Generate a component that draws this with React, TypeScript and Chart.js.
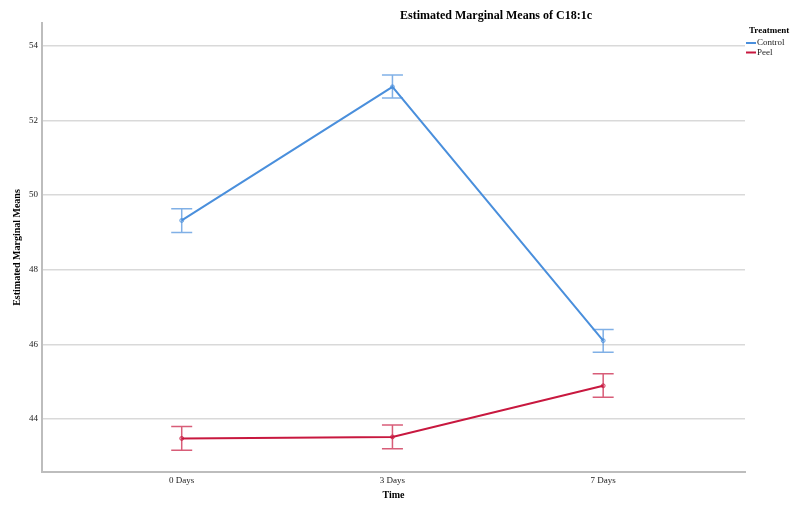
import React, { useEffect, useRef } from "react";
import { Chart, registerables } from "chart.js";

Chart.register(...registerables);

const timeLabels = ["0 Days", "3 Days", "7 Days"];
const controlMeans = [49.32, 52.9, 46.1];
const controlUpper = [49.63, 53.22, 46.4];
const controlLower = [49.0, 52.6, 45.79];
const peelMeans = [43.48, 43.52, 44.89];
const peelUpper = [43.8, 43.84, 45.21];
const peelLower = [43.16, 43.2, 44.58];
const yTickValues = [44, 46, 48, 50, 52, 54];
const seriesNames = ["Control", "Peel"];
const chartTitle = "Estimated Marginal Means of C18:1c";
const legendTitle = "Treatment";
const xAxisTitle = "Time";
const yAxisTitle = "Estimated Marginal Means";

const FONT = "'Liberation Serif', 'Times New Roman', serif";
const CONTROL_COLOR = "#4a8fdc";
const CONTROL_LIGHT = "rgba(74,143,220,0.7)";
const PEEL_COLOR = "#c8183f";
const PEEL_LIGHT = "rgba(200,24,63,0.7)";

const errorSets = [
  { upper: controlUpper, lower: controlLower, color: CONTROL_LIGHT },
  { upper: peelUpper, lower: peelLower, color: PEEL_LIGHT },
];

const errorBarPlugin = {
  id: "errorBars",
  beforeDatasetsDraw(chart: any) {
    const ctx = chart.ctx;
    const yScale = chart.scales.y;
    errorSets.forEach((es, di) => {
      const meta = chart.getDatasetMeta(di);
      ctx.save();
      ctx.strokeStyle = es.color;
      ctx.lineWidth = 1.5;
      meta.data.forEach((pt: any, i: number) => {
        const x = pt.x;
        const yu = yScale.getPixelForValue(es.upper[i]);
        const yl = yScale.getPixelForValue(es.lower[i]);
        ctx.beginPath();
        ctx.moveTo(x, yu);
        ctx.lineTo(x, yl);
        ctx.moveTo(x - 10.5, yu);
        ctx.lineTo(x + 10.5, yu);
        ctx.moveTo(x - 10.5, yl);
        ctx.lineTo(x + 10.5, yl);
        ctx.stroke();
      });
      ctx.restore();
    });
  },
};

const textPlugin = {
  id: "spssText",
  afterDraw(chart: any) {
    const ctx = chart.ctx;
    ctx.save();
    ctx.fillStyle = "#000";
    ctx.textBaseline = "middle";
    ctx.textAlign = "center";
    ctx.font = `bold 12px ${FONT}`;
    ctx.fillText(chartTitle, 496, 16);

    ctx.textAlign = "left";
    ctx.font = `bold 9px ${FONT}`;
    ctx.fillText(legendTitle, 749, 31);
    ctx.font = `9px ${FONT}`;
    const colors = [CONTROL_COLOR, PEEL_COLOR];
    seriesNames.forEach((name, i) => {
      const y = 43 + i * 9.5;
      ctx.strokeStyle = colors[i];
      ctx.lineWidth = 2;
      ctx.beginPath();
      ctx.moveTo(746, y);
      ctx.lineTo(756, y);
      ctx.stroke();
      ctx.fillStyle = "#222";
      ctx.fillText(name, 757, y);
    });
    ctx.restore();
  },
};

export default function App() {
  const ref = useRef<HTMLCanvasElement | null>(null);

  useEffect(() => {
    document.body.style.margin = "0";
    document.body.style.background = "#fff";
    if (!ref.current) return;
    const chart = new Chart(ref.current, {
      type: "line",
      data: {
        datasets: [
          {
            label: seriesNames[0],
            data: controlMeans.map((v, i) => ({ x: i, y: v })),
            borderColor: CONTROL_COLOR,
            backgroundColor: "rgba(74,143,220,0.25)",
            pointBorderColor: CONTROL_LIGHT,
            pointBackgroundColor: "rgba(74,143,220,0.3)",
            pointRadius: 2,
            pointBorderWidth: 1,
            borderWidth: 2,
            tension: 0,
          },
          {
            label: seriesNames[1],
            data: peelMeans.map((v, i) => ({ x: i, y: v })),
            borderColor: PEEL_COLOR,
            backgroundColor: "rgba(200,24,63,0.25)",
            pointBorderColor: PEEL_LIGHT,
            pointBackgroundColor: "rgba(200,24,63,0.3)",
            pointRadius: 2,
            pointBorderWidth: 1,
            borderWidth: 2,
            tension: 0,
          },
        ],
      },
      options: {
        animation: false,
        responsive: false,
        layout: { padding: { top: 23, right: 49, left: 0, bottom: 0 } },
        plugins: {
          legend: { display: false },
          title: { display: false },
          tooltip: { enabled: false },
        },
        scales: {
          x: {
            type: "linear",
            min: -0.663,
            max: 2.673,
            afterBuildTicks: (s: any) => {
              s.ticks = timeLabels.map((_, i) => ({ value: i }));
            },
            afterFit: (s: any) => {
              s.height = 38;
            },
            grid: { display: false, drawTicks: false },
            border: { display: true, color: "#bdbdbd", width: 2 },
            ticks: {
              autoSkip: false,
              maxRotation: 0,
              padding: 3,
              color: "#222",
              font: { family: FONT, size: 9 },
              callback: (v: any) => timeLabels[v] ?? "",
            },
            title: {
              display: true,
              text: xAxisTitle,
              color: "#000",
              font: { family: FONT, size: 10, weight: "bold" },
              padding: { top: 0, bottom: 9 },
            },
          },
          y: {
            type: "linear",
            min: 42.58,
            max: 54.61,
            afterBuildTicks: (s: any) => {
              s.ticks = yTickValues.map((v) => ({ value: v }));
            },
            afterFit: (s: any) => {
              s.width = 42;
            },
            grid: { color: "#d9d9d9", lineWidth: 1.5, drawTicks: false },
            border: { display: true, color: "#bdbdbd", width: 2 },
            ticks: {
              padding: 4,
              color: "#222",
              font: { family: FONT, size: 9 },
              callback: (v: any) => String(v),
            },
            title: {
              display: true,
              text: yAxisTitle,
              color: "#000",
              font: { family: FONT, size: 10, weight: "bold" },
              padding: { top: 11, bottom: 0 },
            },
          },
        },
      },
      plugins: [errorBarPlugin, textPlugin],
    } as any);
    return () => chart.destroy();
  }, []);

  return (
    <div style={{ position: "absolute", left: 0, top: 0, width: 794, height: 510 }}>
      <canvas ref={ref} width={794} height={510} />
    </div>
  );
}
